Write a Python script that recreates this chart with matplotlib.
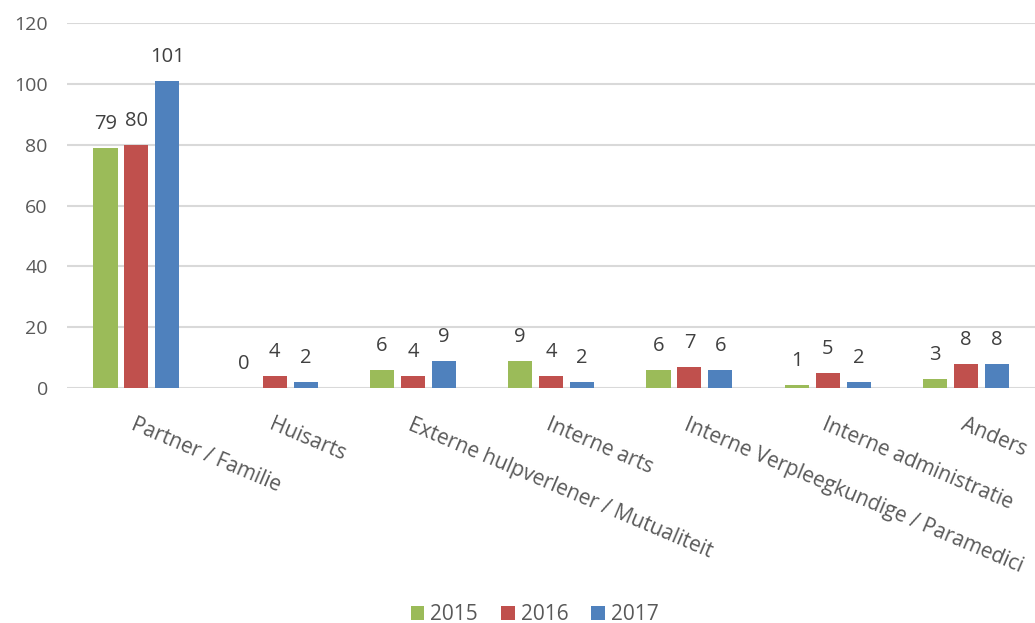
import numpy as np
import matplotlib.pyplot as plt

plt.rcParams['font.family'] = ['Open Sans', 'DejaVu Sans']

categories = ['Partner / Familie', 'Huisarts', 'Externe hulpverlener / Mutualiteit',
              'Interne arts', 'Interne Verpleegkundige / Paramedici',
              'Interne administratie', 'Anders']
years = ['2015', '2016', '2017']
v2015 = [79, 0, 6, 9, 6, 1, 3]
v2016 = [80, 4, 4, 4, 7, 5, 8]
v2017 = [101, 2, 9, 2, 6, 2, 8]
colors = ['#9BBB59', '#C0504D', '#4F81BD']

fig = plt.figure(figsize=(10.35, 6.23), dpi=100)
ax = fig.add_axes([0.065, 0.377, 0.935, 0.586])

x = np.arange(len(categories))
step = 0.224
width = 0.175
for i, (vals, c, yr) in enumerate(zip([v2015, v2016, v2017], colors, years)):
    pos = x + (i - 1) * step
    ax.bar(pos, vals, width, color=c, label=yr, zorder=3)
    for p, v in zip(pos, vals):
        ax.annotate(str(v), (p, v), xytext=(0, 10), textcoords='offset points',
                    ha='center', va='bottom', fontsize=14.5, color='#404040')

ax.set_xlim(-0.5, len(categories) - 0.5)
ax.set_ylim(0, 120)
ax.set_yticks(range(0, 121, 20))
ax.yaxis.grid(True, color='#D9D9D9', linewidth=1.5, zorder=0)
for s in ax.spines.values():
    s.set_visible(False)
ax.tick_params(axis='both', length=0, labelsize=14, labelcolor='#595959')
ax.tick_params(axis='y', pad=14)

# slanted category names, anchored at their top-left corner
ax.set_xticks(x)
ax.set_xticklabels(categories, rotation=-23, ha='left', va='top',
                   rotation_mode='anchor', fontsize=15)
ax.tick_params(axis='x', pad=19)
for lbl in ax.get_xticklabels():
    lbl.set_x(lbl.get_position()[0] - 0.02)

ax.legend(loc='center', bbox_to_anchor=(0.483, -0.62), ncol=3,
          frameon=False, fontsize=15, handlelength=0.65, handleheight=0.65,
          handletextpad=0.3, columnspacing=1.1, labelcolor='#595959',
          borderpad=0.1)

fig.savefig('out.png', dpi=100)
